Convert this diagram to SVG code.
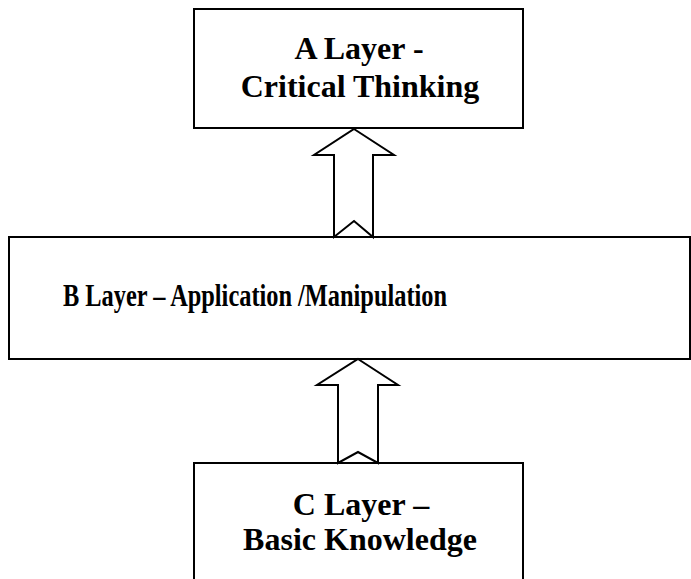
<svg xmlns="http://www.w3.org/2000/svg" width="691" height="579" viewBox="0 0 691 579">
<style>
.box{fill:#fff;stroke:#000;stroke-width:2}
.arrow{fill:#fff;stroke:#000;stroke-width:2;stroke-linejoin:miter}
.t{font-family:"Liberation Serif","Times New Roman",serif;font-weight:bold;font-size:32px;fill:#000;text-anchor:middle}
</style>
<rect width="691" height="579" fill="#fff"/>
<g id="nodeA">
<rect class="box" x="194" y="9" width="329" height="119"/>
<text class="t" x="359" y="59">A Layer -</text>
<text class="t" x="360" y="97">Critical Thinking</text>
</g>
<g id="nodeB">
<rect class="box" x="9" y="237" width="681" height="122"/>
<text class="t" x="255" y="306" textLength="384" lengthAdjust="spacingAndGlyphs">B Layer – Application /Manipulation</text>
</g>
<g id="nodeC">
<rect class="box" x="194" y="463" width="329" height="130"/>
<text class="t" x="361" y="515">C Layer –</text>
<text class="t" x="360" y="550">Basic Knowledge</text>
</g>
<g id="connectors">
<path class="arrow" d="M354,129 L394,155 L373,155 L373,237 L354,221 L334,237 L334,155 L314,155 Z"/>
<path class="arrow" d="M358,359 L398,385 L378,385 L378,463 L358,452 L338,463 L338,385 L317,385 Z"/>
</g>
</svg>
